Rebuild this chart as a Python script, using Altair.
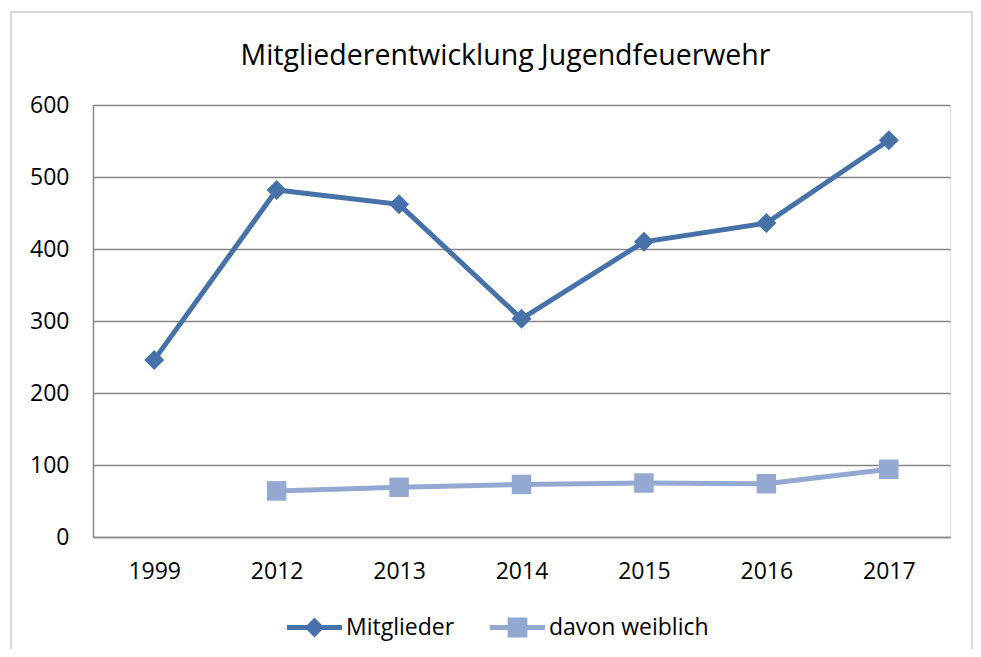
import altair as alt
import pandas as pd

years = ["1999", "2012", "2013", "2014", "2015", "2016", "2017"]
mitglieder = [246, 482, 462, 303, 410, 436, 551]
weiblich = [None, 64, 69, 73, 75, 74, 94]
series_names = ["Mitglieder", "davon weiblich"]
colors = ["#4672A9", "#93A9D1"]
y_ticks = [0, 100, 200, 300, 400, 500, 600]

rows = []
for yr, m, w in zip(years, mitglieder, weiblich):
    rows.append({"Jahr": yr, "Wert": m, "Reihe": series_names[0]})
    if w is not None:
        rows.append({"Jahr": yr, "Wert": w, "Reihe": series_names[1]})
df = pd.DataFrame(rows)

FONT = "Open Sans"
W, H = 857, 432

x_enc = alt.X("Jahr:N", sort=years,
              scale=alt.Scale(type="point", padding=0.5),
              axis=alt.Axis(title=None, labelAngle=0, ticks=False, grid=False,
                            domainColor="#868686", domainWidth=1.5,
                            labelFontSize=23, labelFont=FONT, labelColor="#000",
                            labelPadding=23))
y_enc = alt.Y("Wert:Q",
              scale=alt.Scale(domain=[0, 600], nice=False),
              axis=alt.Axis(title=None, values=y_ticks, ticks=False,
                            grid=True, gridColor="#868686", gridWidth=1.5,
                            domainColor="#868686", domainWidth=1.5,
                            labelFontSize=23, labelFont=FONT, labelColor="#000",
                            labelPadding=24))

diamond_leg = ("M-1,-0.09L-0.27,-0.09L0,-0.36L0.27,-0.09L1,-0.09L1,0.09"
               "L0.27,0.09L0,0.36L-0.27,0.09L-1,0.09Z")
square_leg = ("M-1,-0.09L-0.36,-0.09L-0.36,-0.36L0.36,-0.36L0.36,-0.09L1,-0.09"
              "L1,0.09L0.36,0.09L0.36,0.36L-0.36,0.36L-0.36,0.09L-1,0.09Z")


def series_layer(name, color, shape, size, leg_path, leg_x):
    base = alt.Chart(df).transform_filter(alt.datum.Reihe == name)
    line = base.mark_line(strokeWidth=5, color=color).encode(x=x_enc, y=y_enc)
    pts = base.mark_point(filled=True, opacity=1, shape=shape, size=size).encode(
        x=x_enc, y=y_enc,
        color=alt.Color("Reihe:N",
                        scale=alt.Scale(domain=[name], range=[color]),
                        legend=alt.Legend(title=None, orient="none",
                                          legendX=leg_x, legendY=495,
                                          symbolType=leg_path, symbolSize=3025,
                                          symbolFillColor=color, symbolStrokeWidth=0,
                                          symbolOpacity=1,
                                          labelFont=FONT, labelFontSize=23,
                                          labelColor="#000", labelOffset=4,
                                          padding=0)))
    return alt.layer(line, pts)


border = alt.Chart(pd.DataFrame({"a": [0]})).mark_rect(
    fill=None, stroke="#D9D9D9", strokeWidth=2, clip=False).encode(
    x=alt.value(-82), x2=alt.value(879), y=alt.value(-93), y2=alt.value(600))

s1 = series_layer(series_names[0], colors[0], "diamond", 400, diamond_leg, 194)
s2 = series_layer(series_names[1], colors[1], "square", 380, square_leg, 397)

chart = alt.layer(border, s1, s2).resolve_scale(color="independent").resolve_legend(
    color="independent").properties(
    width=W, height=H,
    title=alt.TitleParams("Mitgliederentwicklung Jugendfeuerwehr", font=FONT,
                          fontSize=28.5, fontWeight="normal", color="#000",
                          anchor="middle", dx=-16, dy=95, offset=36),
    autosize=alt.AutoSizeParams(type="none"),
    padding={"left": 85, "top": 97, "right": 23, "bottom": 112},
).configure_view(stroke=None).configure(background="white")

chart.save("out.html", embed_options={"renderer": "svg", "actions": False})
